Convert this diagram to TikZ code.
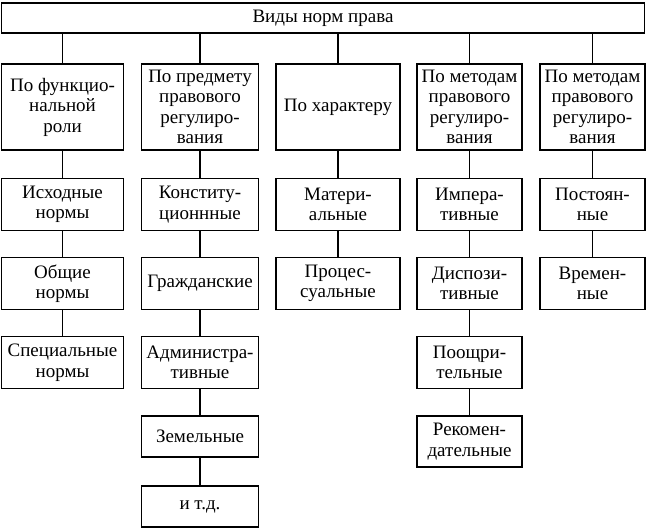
\documentclass[tikz,border=0pt]{standalone}
\usepackage{fontspec}
\setmainfont{Liberation Serif}
\usepackage{tikz}

\tikzset{
  normbox/.style={draw,line width=1.7pt,align=center,inner sep=0pt,
    font=\fontsize{19}{20.5}\selectfont},
  link/.style={line width=1.7pt}
}

\begin{document}
\begin{tikzpicture}[x=1pt,y=-1pt]
\useasboundingbox (0,0) rectangle (647,528);
% Top box
\node[normbox,minimum width=643pt,minimum height=30pt] (top) at (323,18) {Виды норм права};
% Criteria
\node[normbox,minimum width=122pt,minimum height=86pt] (c1) at (62.5,107) {По функцио-\\нальной\\роли};
\node[normbox,minimum width=117pt,minimum height=86pt] (c2) at (200,107) {По предмету\\правового\\регулиро-\\вания};
\node[normbox,minimum width=124pt,minimum height=86pt] (c3) at (338,107) {По характеру};
\node[normbox,minimum width=105pt,minimum height=86pt] (c4) at (469.5,107) {По методам\\правового\\регулиро-\\вания};
\node[normbox,minimum width=105pt,minimum height=86pt] (c5) at (592.5,107) {По методам\\правового\\регулиро-\\вания};
% Column 1
\node[normbox,minimum width=122pt,minimum height=52pt] (a1) at (62.5,204.5) {Исходные\\нормы};
\node[normbox,minimum width=122pt,minimum height=52pt] (a2) at (62.5,283.5) {Общие\\нормы};
\node[normbox,minimum width=122pt,minimum height=52pt] (a3) at (62.5,362.5) {Специальные\\нормы};
% Column 2
\node[normbox,minimum width=117pt,minimum height=52pt] (b1) at (200,204.5) {Конститу-\\ционнные};
\node[normbox,minimum width=117pt,minimum height=52pt] (b2) at (200,283.5) {Гражданские};
\node[normbox,minimum width=117pt,minimum height=52pt] (b3) at (200,362.5) {Администра-\\тивные};
\node[normbox,minimum width=117pt,minimum height=41pt] (b4) at (200,436.5) {Земельные};
\node[normbox,minimum width=117pt,minimum height=41pt] (b5) at (200,506.5) {и т.д.};
% Column 3
\node[normbox,minimum width=124pt,minimum height=52pt] (d1) at (338,204.5) {Матери-\\альные};
\node[normbox,minimum width=124pt,minimum height=52pt] (d2) at (338,283.5) {Процес-\\суальные};
% Column 4
\node[normbox,minimum width=105pt,minimum height=52pt] (e1) at (469.5,204.5) {Импера-\\тивные};
\node[normbox,minimum width=105pt,minimum height=52pt] (e2) at (469.5,283.5) {Диспози-\\тивные};
\node[normbox,minimum width=105pt,minimum height=52pt] (e3) at (469.5,362.5) {Поощри-\\тельные};
\node[normbox,minimum width=105pt,minimum height=51pt] (e4) at (469.5,441.5) {Рекомен-\\дательные};
% Column 5
\node[normbox,minimum width=105pt,minimum height=52pt] (f1) at (592.5,204.5) {Постоян-\\ные};
\node[normbox,minimum width=105pt,minimum height=52pt] (f2) at (592.5,283.5) {Времен-\\ные};
% Links from top
\draw[link] (top.south -| c1.north) -- (c1.north);
\draw[link] (top.south -| c2.north) -- (c2.north);
\draw[link] (top.south -| c3.north) -- (c3.north);
\draw[link] (top.south -| c4.north) -- (c4.north);
\draw[link] (top.south -| c5.north) -- (c5.north);
% Links in columns
\draw[link] (c1) -- (a1) -- (a2) -- (a3);
\draw[link] (c2) -- (b1) -- (b2) -- (b3) -- (b4) -- (b5);
\draw[link] (c3) -- (d1) -- (d2);
\draw[link] (c4) -- (e1) -- (e2) -- (e3) -- (e4);
\draw[link] (c5) -- (f1) -- (f2);
\end{tikzpicture}
\end{document}
